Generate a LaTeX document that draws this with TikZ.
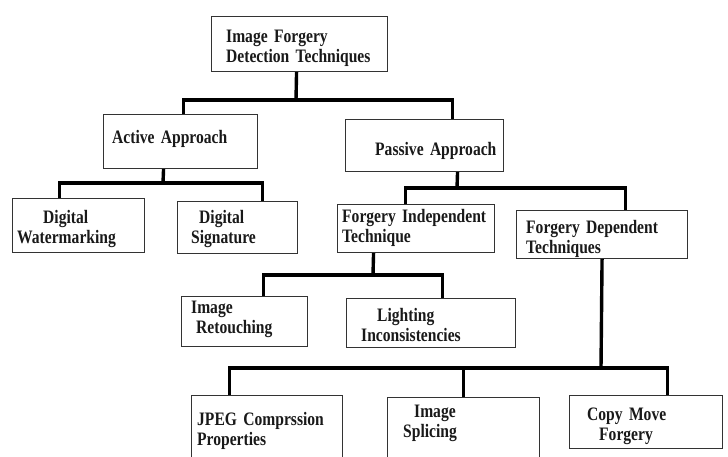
\documentclass[tikz,border=0pt]{standalone}
\usepackage{fontspec}
\setmainfont{Liberation Serif}[FakeStretch=0.82, WordSpace=0.8]

\begin{document}
\begin{tikzpicture}[x=1pt, y=-1pt,
	box/.style={draw=black!80, line width=1.1pt, anchor=north west, inner sep=0pt},
	txt/.style={anchor=base west, inner sep=0pt, text width=190pt, align=left,
		font=\fontsize{19}{20.5}\selectfont\bfseries, text=black!90},
	link/.style={line width=3.4pt, black}]
	\useasboundingbox (0,0) rectangle (728,456);

	% boxes
	\node[box, minimum width=176, minimum height=55] (root) at (211,16) {};
	\node[box, minimum width=154, minimum height=54] (active) at (103,114) {};
	\node[box, minimum width=158, minimum height=52] (passive) at (345,119) {};
	\node[box, minimum width=132, minimum height=54] (water) at (12,198) {};
	\node[box, minimum width=120, minimum height=52] (sig) at (177,201) {};
	\node[box, minimum width=157, minimum height=48] (findep) at (337,204) {};
	\node[box, minimum width=171, minimum height=48] (fdep) at (516,210) {};
	\node[box, minimum width=126, minimum height=50] (retouch) at (181,296) {};
	\node[box, minimum width=169, minimum height=49] (light) at (346,298) {};
	\node[box, minimum width=151, minimum height=80] (jpeg) at (191,395) {};
	\node[box, minimum width=152, minimum height=80] (splice) at (387,397) {};
	\node[box, minimum width=153, minimum height=53] (copy) at (569,395) {};

	% texts
	\node[txt] (root-t) at (226,42) {Image Forgery\\Detection Techniques};
	\node[txt] (active-t) at (112,143) {Active Approach};
	\node[txt] (passive-t) at (375,155) {Passive Approach};
	\node[txt] (water-t) at (17,223) {\hspace*{26pt}Digital\\Watermarking};
	\node[txt] (sig-t) at (191,223) {\hspace*{8pt}Digital\\Signature};
	\node[txt] (findep-t) at (342,222) {Forgery Independent\\Technique};
	\node[txt] (fdep-t) at (526,233) {Forgery Dependent\\Techniques};
	\node[txt] (retouch-t) at (191,313) {Image\\\hspace*{5pt}Retouching};
	\node[txt] (light-t) at (361,321) {\hspace*{16pt}Lighting\\Inconsistencies};
	\node[txt] (jpeg-t) at (197,425) {JPEG Comprssion\\Properties};
	\node[txt] (splice-t) at (403,417) {\hspace*{11pt}Image\\Splicing};
	\node[txt] (copy-t) at (587,420) {Copy Move\\\hspace*{12pt}Forgery};

	% connectors
	\coordinate (j1) at (296,100);
	\coordinate (j2) at (163,183);
	\coordinate (j3) at (457,188);
	\coordinate (j4) at (373,275);
	\coordinate (j5) at (601,368);

	\draw[link] ([xshift=-3]root.south) -- (j1);
	\draw[link] ([xshift=3]active.north) |- (j1) -| ([xshift=28]passive.north);

	\draw[link] ([xshift=-17]active.south) -- (j2);
	\draw[link] ([xshift=-19]water.north) |- (j2) -| ([xshift=25]sig.north);

	\draw[link] ([xshift=33]passive.south) -- (j3);
	\draw[link] ([xshift=-10.5]findep.north) |- (j3) -| ([xshift=23.5]fdep.north);

	\draw[link] ([xshift=-42.5]findep.south) -- (j4);
	\draw[link] ([xshift=19]retouch.north) |- (j4) -| ([xshift=11.5]light.north);

	\draw[link] (fdep.south) -- (j5);
	\draw[link] ([xshift=-37.5]jpeg.north) |- (j5) -| ([xshift=21.5]copy.north);
	\draw[link] (splice.north) -- (splice.north |- j5);
\end{tikzpicture}
\end{document}
